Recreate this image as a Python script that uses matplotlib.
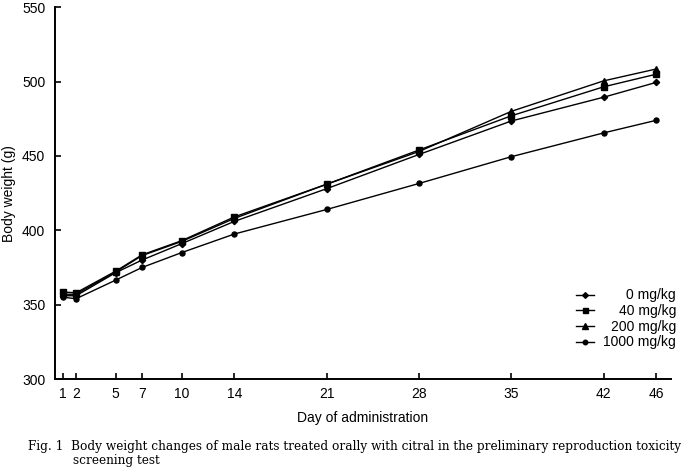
import matplotlib
matplotlib.use("Agg")
import matplotlib.pyplot as plt

# Day of administration
days = [1, 2, 5, 7, 10, 14, 21, 28, 35, 42, 46]

# Body weight (g) per dose group
bw_0 = [356, 356, 371.5, 380, 391, 406, 428, 451, 473.5, 489.5, 499.5]
bw_40 = [358.5, 358, 372.5, 383.5, 393, 409, 431, 454, 477, 496.5, 505]
bw_200 = [357, 357, 372, 383, 392.5, 408, 431, 453, 480, 500.5, 508.5]
bw_1000 = [355, 354, 366.5, 375, 385, 397.5, 414, 431.5, 449.5, 465.5, 474]

labels = ['0 mg/kg', '40 mg/kg', '200 mg/kg', '1000 mg/kg']
markers = ['D', 's', '^', 'o']

plt.rcParams['font.family'] = ['Liberation Sans', 'DejaVu Sans']

fig = plt.figure(figsize=(6.89, 4.73), dpi=100)
ax = fig.add_axes([0.0798, 0.1987, 0.894, 0.786])

series = [bw_0, bw_40, bw_200, bw_1000]
sizes = [3.2, 4, 4.2, 3.6]
for vals, lab, mk, ms in zip(series, labels, markers, sizes):
    ax.plot(days, vals, color='black', lw=1, marker=mk, ms=ms, label=lab)

ax.set_xlim(0.4, 47.1)
ax.set_ylim(300, 550)
ax.set_xticks(days)
ax.set_yticks(range(300, 551, 50))
ax.tick_params(direction='in', length=4, width=1.2, labelsize=10)
ax.tick_params(axis='y', pad=7)
ax.tick_params(axis='x', pad=6)
for s in ['top', 'right']:
    ax.spines[s].set_visible(False)
for s in ['left', 'bottom']:
    ax.spines[s].set_linewidth(1.4)

ax.set_xlabel('Day of administration', fontsize=10, labelpad=7)
ax.set_ylabel('Body weight (g)', fontsize=10, labelpad=4.5)

leg = ax.legend(loc='lower right', bbox_to_anchor=(1.0195, 0.061), frameon=False,
                fontsize=10, handlelength=1.3, handletextpad=0.65,
                labelspacing=0.12, borderpad=0, markerscale=0.9)
fig.canvas.draw()
widths = [t.get_window_extent().width for t in leg.get_texts()]
for t, tw in zip(leg.get_texts(), widths):
    t.set_position((max(widths) - tw, 0))

fig.text(0.041, 0.048, 'Fig. 1  Body weight changes of male rats treated orally with citral in the preliminary reproduction toxicity',
         family='DejaVu Serif', fontsize=8.7, va='baseline')
fig.text(0.106, 0.018, 'screening test', family='DejaVu Serif', fontsize=8.7, va='baseline')

fig.savefig('out.png', dpi=100)
